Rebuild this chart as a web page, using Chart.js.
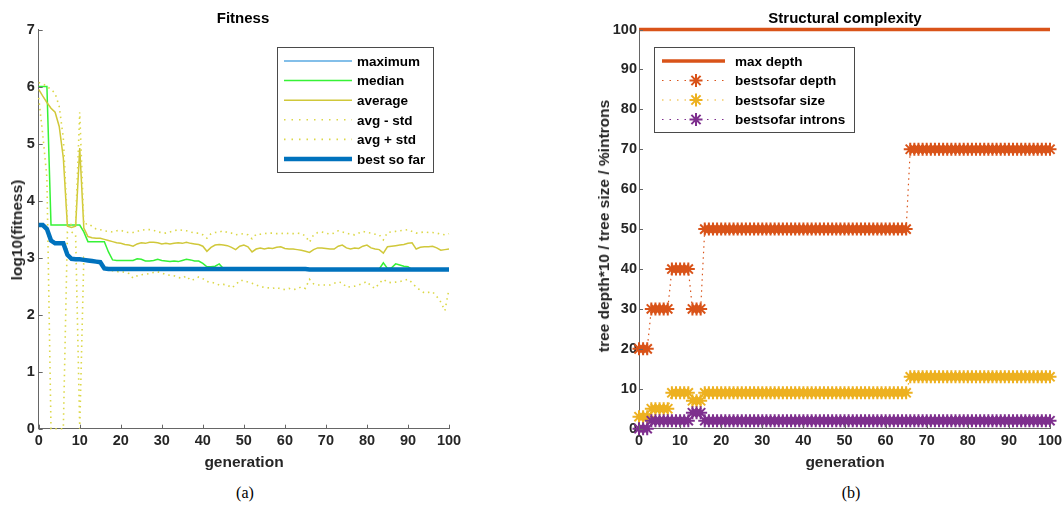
<!DOCTYPE html>
<html>
<head>
<meta charset="utf-8">
<script src="https://cdn.jsdelivr.net/npm/chart.js@4.4.0/dist/chart.umd.min.js"></script>
<style>
    body { margin: 0; width: 1063px; height: 510px; background: #fff; position: relative; overflow: hidden;
           font-family: "Liberation Sans", Arial, sans-serif; }
    canvas { position: absolute; top: 0; }
    .lbl { position: absolute; font-weight: bold; white-space: nowrap; transform: translate(-50%, -50%); }
    .title { font-size: 15px; color: #000; }
    .axis { font-size: 15.5px; color: #262626; }
    .rot { transform: translate(-50%, -50%) rotate(-90deg); }
    .cap { font-family: "Liberation Serif", "Times New Roman", serif; font-weight: normal; font-size: 16px; color: #000; }
</style>
</head>
<body>
<canvas id="fitness-chart" width="480" height="460" style="left:0"></canvas>
<canvas id="complexity-chart" width="520" height="460" style="left:560px"></canvas>

<div class="lbl title" style="left:243px;top:17px">Fitness</div>
<div class="lbl title" style="left:845px;top:17px">Structural complexity</div>
<div class="lbl axis" style="left:244px;top:462px">generation</div>
<div class="lbl axis" style="left:845px;top:462px">generation</div>
<div class="lbl axis rot" style="left:17px;top:230px">log10(fitness)</div>
<div class="lbl axis rot" style="left:604px;top:226px">tree depth*10 / tree size / %introns</div>
<div class="lbl cap" style="left:245px;top:493px">(a)</div>
<div class="lbl cap" style="left:851px;top:493px">(b)</div>

<script>
// generations 0..100 (x categories)
const generations = Array.from({ length: 101 }, (_, i) => i);

// ---- Fitness (log10) ----
// maximum is off the top of the axis (> 7) in the figure, so nothing is drawn
const maximum = [];
const median = [
    6.00, 6.00, 6.00, 3.57, 3.57, 3.57, 3.57, 3.57, 3.57, 3.57,
    3.57, 3.45, 3.28, 3.28, 3.28, 3.28, 3.28, 3.10, 2.96, 2.95,
    2.95, 2.95, 2.95, 2.95, 2.98, 2.97, 2.94, 2.94, 2.95, 2.97,
    2.95, 2.94, 2.93, 2.94, 2.93, 2.95, 2.97, 2.96, 2.94, 2.94,
    2.90, 2.84, 2.84, 2.85, 2.89, 2.81, 2.80, 2.80, 2.80, 2.80,
    2.80, 2.80, 2.80, 2.80, 2.80, 2.80, 2.80, 2.80, 2.80, 2.80,
    2.80, 2.80, 2.80, 2.80, 2.80, 2.80, 2.79, 2.79, 2.79, 2.79,
    2.79, 2.79, 2.79, 2.79, 2.79, 2.79, 2.79, 2.79, 2.79, 2.79,
    2.79, 2.79, 2.79, 2.80, 2.91, 2.81, 2.82, 2.89, 2.87, 2.85,
    2.84, 2.79, 2.79, 2.79, 2.79, 2.79, 2.79, 2.79, 2.79, 2.79,
    2.79
];
const average = [
    5.95, 5.83, 5.72, 5.62, 5.55, 5.30, 4.75, 3.55, 3.53, 3.55,
    4.92, 3.52, 3.37, 3.35, 3.34, 3.34, 3.32, 3.30, 3.28, 3.26,
    3.25, 3.23, 3.22, 3.20, 3.24, 3.26, 3.25, 3.27, 3.27, 3.26,
    3.24, 3.25, 3.24, 3.25, 3.26, 3.25, 3.27, 3.25, 3.24, 3.23,
    3.20, 3.11, 3.18, 3.22, 3.23, 3.22, 3.21, 3.18, 3.14, 3.20,
    3.22, 3.19, 3.10, 3.15, 3.17, 3.15, 3.17, 3.16, 3.18, 3.19,
    3.16, 3.15, 3.15, 3.14, 3.13, 3.11, 3.09, 3.14, 3.17, 3.17,
    3.16, 3.15, 3.15, 3.20, 3.22, 3.17, 3.15, 3.17, 3.16, 3.20,
    3.22, 3.17, 3.15, 3.14, 3.08, 3.19, 3.20, 3.21, 3.22, 3.23,
    3.25, 3.26, 3.15, 3.18, 3.19, 3.19, 3.20, 3.17, 3.13, 3.14,
    3.15
];
const avgMinusStd = [
    5.80, 5.15, 4.40, 0.00, 0.00, 0.00, 0.00, 3.45, 3.45, 3.40,
    0.00, 3.00, 2.95, 2.95, 2.93, 2.90, 2.85, 2.80, 2.77, 2.75,
    2.76, 2.74, 2.72, 2.64, 2.68, 2.70, 2.71, 2.72, 2.74, 2.75,
    2.73, 2.70, 2.69, 2.68, 2.65, 2.64, 2.68, 2.60, 2.62, 2.66,
    2.63, 2.58, 2.57, 2.55, 2.52, 2.53, 2.52, 2.47, 2.52, 2.60,
    2.60, 2.57, 2.55, 2.52, 2.49, 2.48, 2.47, 2.46, 2.48, 2.45,
    2.44, 2.46, 2.44, 2.45, 2.49, 2.46, 2.62, 2.54, 2.52, 2.52,
    2.52, 2.52, 2.55, 2.57, 2.56, 2.48, 2.49, 2.50, 2.52, 2.55,
    2.58, 2.50, 2.46, 2.55, 2.62, 2.57, 2.56, 2.57, 2.58, 2.60,
    2.62, 2.56, 2.48, 2.43, 2.38, 2.39, 2.40, 2.32, 2.22, 2.07,
    2.45
];
const avgPlusStd = [
    6.07, 6.05, 6.00, 5.95, 5.88, 5.65, 5.10, 3.60, 3.58, 3.60,
    5.55, 3.58, 3.60, 3.55, 3.50, 3.49, 3.47, 3.46, 3.45, 3.47,
    3.48, 3.45, 3.44, 3.44, 3.46, 3.48, 3.49, 3.49, 3.48, 3.45,
    3.44, 3.43, 3.45, 3.47, 3.49, 3.48, 3.47, 3.45, 3.43, 3.43,
    3.40, 3.34, 3.42, 3.44, 3.45, 3.47, 3.44, 3.43, 3.40, 3.41,
    3.42, 3.40, 3.33, 3.41, 3.41, 3.42, 3.43, 3.43, 3.42, 3.42,
    3.43, 3.42, 3.42, 3.43, 3.42, 3.38, 3.27, 3.40, 3.44, 3.45,
    3.43, 3.41, 3.43, 3.47, 3.45, 3.43, 3.41, 3.40, 3.43, 3.46,
    3.44, 3.43, 3.41, 3.40, 3.31, 3.44, 3.45, 3.46, 3.47, 3.48,
    3.49, 3.46, 3.43, 3.44, 3.45, 3.44, 3.44, 3.43, 3.41, 3.40,
    3.42
];
const bestSoFar = [
    3.57, 3.57, 3.50, 3.30, 3.25, 3.25, 3.25, 3.05, 2.98, 2.97,
    2.97, 2.96, 2.95, 2.94, 2.93, 2.92, 2.81, 2.80, 2.80, 2.80,
    2.80, 2.80, 2.80, 2.80, 2.80, 2.80, 2.80, 2.80, 2.80, 2.80,
    2.80, 2.80, 2.80, 2.80, 2.80, 2.80, 2.80, 2.80, 2.80, 2.80,
    2.80, 2.80, 2.80, 2.80, 2.80, 2.80, 2.80, 2.80, 2.80, 2.80,
    2.80, 2.80, 2.80, 2.80, 2.80, 2.80, 2.80, 2.80, 2.80, 2.80,
    2.80, 2.80, 2.80, 2.80, 2.80, 2.80, 2.79, 2.79, 2.79, 2.79,
    2.79, 2.79, 2.79, 2.79, 2.79, 2.79, 2.79, 2.79, 2.79, 2.79,
    2.79, 2.79, 2.79, 2.79, 2.79, 2.79, 2.79, 2.79, 2.79, 2.79,
    2.79, 2.79, 2.79, 2.79, 2.79, 2.79, 2.79, 2.79, 2.79, 2.79,
    2.79
];

// ---- Structural complexity ----
const maxDepth = [
    100, 100, 100, 100, 100, 100, 100, 100, 100, 100,
    100, 100, 100, 100, 100, 100, 100, 100, 100, 100,
    100, 100, 100, 100, 100, 100, 100, 100, 100, 100,
    100, 100, 100, 100, 100, 100, 100, 100, 100, 100,
    100, 100, 100, 100, 100, 100, 100, 100, 100, 100,
    100, 100, 100, 100, 100, 100, 100, 100, 100, 100,
    100, 100, 100, 100, 100, 100, 100, 100, 100, 100,
    100, 100, 100, 100, 100, 100, 100, 100, 100, 100,
    100, 100, 100, 100, 100, 100, 100, 100, 100, 100,
    100, 100, 100, 100, 100, 100, 100, 100, 100, 100,
    100
];
const bestDepth = [
    20, 20, 20, 30, 30, 30, 30, 30, 40, 40,
    40, 40, 40, 30, 30, 30, 50, 50, 50, 50,
    50, 50, 50, 50, 50, 50, 50, 50, 50, 50,
    50, 50, 50, 50, 50, 50, 50, 50, 50, 50,
    50, 50, 50, 50, 50, 50, 50, 50, 50, 50,
    50, 50, 50, 50, 50, 50, 50, 50, 50, 50,
    50, 50, 50, 50, 50, 50, 70, 70, 70, 70,
    70, 70, 70, 70, 70, 70, 70, 70, 70, 70,
    70, 70, 70, 70, 70, 70, 70, 70, 70, 70,
    70, 70, 70, 70, 70, 70, 70, 70, 70, 70,
    70
];
const bestSize = [
    3, 3, 3, 5, 5, 5, 5, 5, 9, 9,
    9, 9, 9, 7, 7, 7, 9, 9, 9, 9,
    9, 9, 9, 9, 9, 9, 9, 9, 9, 9,
    9, 9, 9, 9, 9, 9, 9, 9, 9, 9,
    9, 9, 9, 9, 9, 9, 9, 9, 9, 9,
    9, 9, 9, 9, 9, 9, 9, 9, 9, 9,
    9, 9, 9, 9, 9, 9, 13, 13, 13, 13,
    13, 13, 13, 13, 13, 13, 13, 13, 13, 13,
    13, 13, 13, 13, 13, 13, 13, 13, 13, 13,
    13, 13, 13, 13, 13, 13, 13, 13, 13, 13,
    13
];
const bestIntrons = [
    0, 0, 0, 2, 2, 2, 2, 2, 2, 2,
    2, 2, 2, 4, 4, 4, 2, 2, 2, 2,
    2, 2, 2, 2, 2, 2, 2, 2, 2, 2,
    2, 2, 2, 2, 2, 2, 2, 2, 2, 2,
    2, 2, 2, 2, 2, 2, 2, 2, 2, 2,
    2, 2, 2, 2, 2, 2, 2, 2, 2, 2,
    2, 2, 2, 2, 2, 2, 2, 2, 2, 2,
    2, 2, 2, 2, 2, 2, 2, 2, 2, 2,
    2, 2, 2, 2, 2, 2, 2, 2, 2, 2,
    2, 2, 2, 2, 2, 2, 2, 2, 2, 2,
    2
];

const xTicks = [0, 10, 20, 30, 40, 50, 60, 70, 80, 90, 100];

const FONT = '"Liberation Sans", Arial, sans-serif';
const DOTS = [1.5, 4];

function toXY(values) {
    return values.map((v, i) => ({ x: generations[i], y: v }));
}

function starAt(ctx, x, y, r) {
    ctx.beginPath();
    for (let k = 0; k < 4; k++) {
        const a = k * Math.PI / 4;
        ctx.moveTo(x - Math.cos(a) * r, y - Math.sin(a) * r);
        ctx.lineTo(x + Math.cos(a) * r, y + Math.sin(a) * r);
    }
    ctx.stroke();
}

// MATLAB style ticks drawn inside the axes
const inwardTicks = {
    id: 'inwardTicks',
    afterDatasetsDraw(chart) {
        const { ctx, chartArea, scales: { x, y } } = chart;
        ctx.save();
        ctx.strokeStyle = '#666';
        ctx.lineWidth = 1;
        ctx.beginPath();
        x.ticks.forEach(t => {
            const px = Math.round(x.getPixelForValue(t.value)) + 0.5;
            ctx.moveTo(px, chartArea.bottom);
            ctx.lineTo(px, chartArea.bottom - 4);
        });
        y.ticks.forEach(t => {
            const py = Math.round(y.getPixelForValue(t.value)) + 0.5;
            ctx.moveTo(chartArea.left, py);
            ctx.lineTo(chartArea.left + 4, py);
        });
        ctx.stroke();
        ctx.restore();
    }
};

// boxed legend inside the axes
const boxLegend = {
    id: 'boxLegend',
    afterDraw(chart, args, o) {
        const ctx = chart.ctx;
        ctx.save();
        ctx.fillStyle = '#fff';
        ctx.fillRect(o.x, o.y, o.w, o.h);
        ctx.strokeStyle = '#4a4a4a';
        ctx.lineWidth = 1;
        ctx.strokeRect(o.x + 0.5, o.y + 0.5, o.w, o.h);
        ctx.font = 'bold 13.5px ' + FONT;
        ctx.textBaseline = 'middle';
        chart.data.datasets.forEach((ds, i) => {
            const yy = o.rowY + i * o.rowStep;
            ctx.save();
            ctx.strokeStyle = ds.borderColor;
            ctx.lineWidth = ds.borderWidth;
            ctx.setLineDash(ds.borderDash ? [1.5, 6] : []);
            ctx.beginPath();
            ctx.moveTo(o.lineX0, yy);
            ctx.lineTo(o.lineX1, yy);
            ctx.stroke();
            if (ds.pointRadius) {
                ctx.setLineDash([]);
                ctx.lineWidth = ds.pointBorderWidth;
                starAt(ctx, o.markX, yy, ds.pointRadius);
            }
            ctx.restore();
            ctx.fillStyle = '#000';
            ctx.fillText(ds.label, o.textX, yy + 1);
        });
        ctx.restore();
    }
};

function scales(yMax, yStep, yWidth, yPad, xHeight) {
    const tickFont = { family: FONT, size: 14.5, weight: 'bold' };
    return {
        x: {
            type: 'linear', min: 0, max: 100,
            grid: { display: false, drawTicks: false },
            border: { display: true, color: '#666', width: 1 },
            ticks: {
                stepSize: 10, padding: 4, color: '#262626', font: tickFont,
                maxRotation: 0, autoSkip: false
            },
            afterBuildTicks: s => { s.ticks = xTicks.map(v => ({ value: v })); },
            afterFit: s => { s.height = xHeight; }
        },
        y: {
            min: 0, max: yMax,
            grid: { display: false, drawTicks: false },
            border: { display: true, color: '#666', width: 1 },
            ticks: { stepSize: yStep, padding: yPad, color: '#262626', font: tickFont },
            afterFit: s => { s.width = yWidth; }
        }
    };
}

document.addEventListener('DOMContentLoaded', function() {
    Chart.defaults.font.family = FONT;

    // lower "order" is painted last, so later series sit on top as in the figure
    new Chart(document.getElementById('fitness-chart'), {
        type: 'line',
        data: {
            datasets: [
                { label: 'maximum', data: toXY(maximum), borderColor: '#5aaae2', borderWidth: 1.5, order: 6 },
                { label: 'median', data: toXY(median), borderColor: '#36f236', borderWidth: 1.5, order: 5 },
                { label: 'average', data: toXY(average), borderColor: '#d0c83a', borderWidth: 1.5, order: 4 },
                { label: 'avg - std', data: toXY(avgMinusStd), borderColor: '#dcd848', borderWidth: 1.6, borderDash: DOTS, order: 3 },
                { label: 'avg + std', data: toXY(avgPlusStd), borderColor: '#dcd848', borderWidth: 1.6, borderDash: DOTS, order: 2 },
                { label: 'best so far', data: toXY(bestSoFar), borderColor: '#0072bd', borderWidth: 4.5, order: 1 }
            ]
        },
        options: {
            responsive: false,
            animation: false,
            clip: false,
            elements: { point: { radius: 0 }, line: { tension: 0 } },
            layout: { padding: { left: 0, right: 31, top: 29.5, bottom: 0 } },
            scales: scales(7, 1, 38.7, 4, 31.3),
            plugins: {
                legend: { display: false },
                tooltip: { enabled: false },
                boxLegend: { x: 277, y: 47, w: 156, h: 125, rowY: 61, rowStep: 19.6,
                             lineX0: 284, lineX1: 352, markX: 318, textX: 357 }
            }
        },
        plugins: [inwardTicks, boxLegend]
    });

    const markerSet = { pointStyle: 'star', pointRadius: 6.5, pointBorderWidth: 2, borderWidth: 1.2, borderDash: DOTS };

    new Chart(document.getElementById('complexity-chart'), {
        type: 'line',
        data: {
            datasets: [
                { label: 'max depth', data: toXY(maxDepth), borderColor: '#d95319', borderWidth: 3.5, pointRadius: 0, order: 4 },
                Object.assign({ label: 'bestsofar depth', data: toXY(bestDepth), borderColor: '#d95319', order: 3,
                                pointBorderColor: '#d95319', pointBackgroundColor: '#d95319' }, markerSet),
                Object.assign({ label: 'bestsofar size', data: toXY(bestSize), borderColor: '#edb120', order: 2,
                                pointBorderColor: '#edb120', pointBackgroundColor: '#edb120' }, markerSet),
                Object.assign({ label: 'bestsofar introns', data: toXY(bestIntrons), borderColor: '#7e2f8e', order: 1,
                                pointBorderColor: '#7e2f8e', pointBackgroundColor: '#7e2f8e' }, markerSet)
            ]
        },
        options: {
            responsive: false,
            animation: false,
            clip: false,
            elements: { line: { tension: 0 } },
            layout: { padding: { left: 0, right: 30, top: 29.5, bottom: 0 } },
            scales: scales(100, 10, 79, 2, 31.3),
            plugins: {
                legend: { display: false },
                tooltip: { enabled: false },
                boxLegend: { x: 94, y: 47, w: 200, h: 85, rowY: 61, rowStep: 19.5,
                             lineX0: 102, lineX1: 165, markX: 136, textX: 175 }
            }
        },
        plugins: [inwardTicks, boxLegend]
    });
});
</script>
</body>
</html>
